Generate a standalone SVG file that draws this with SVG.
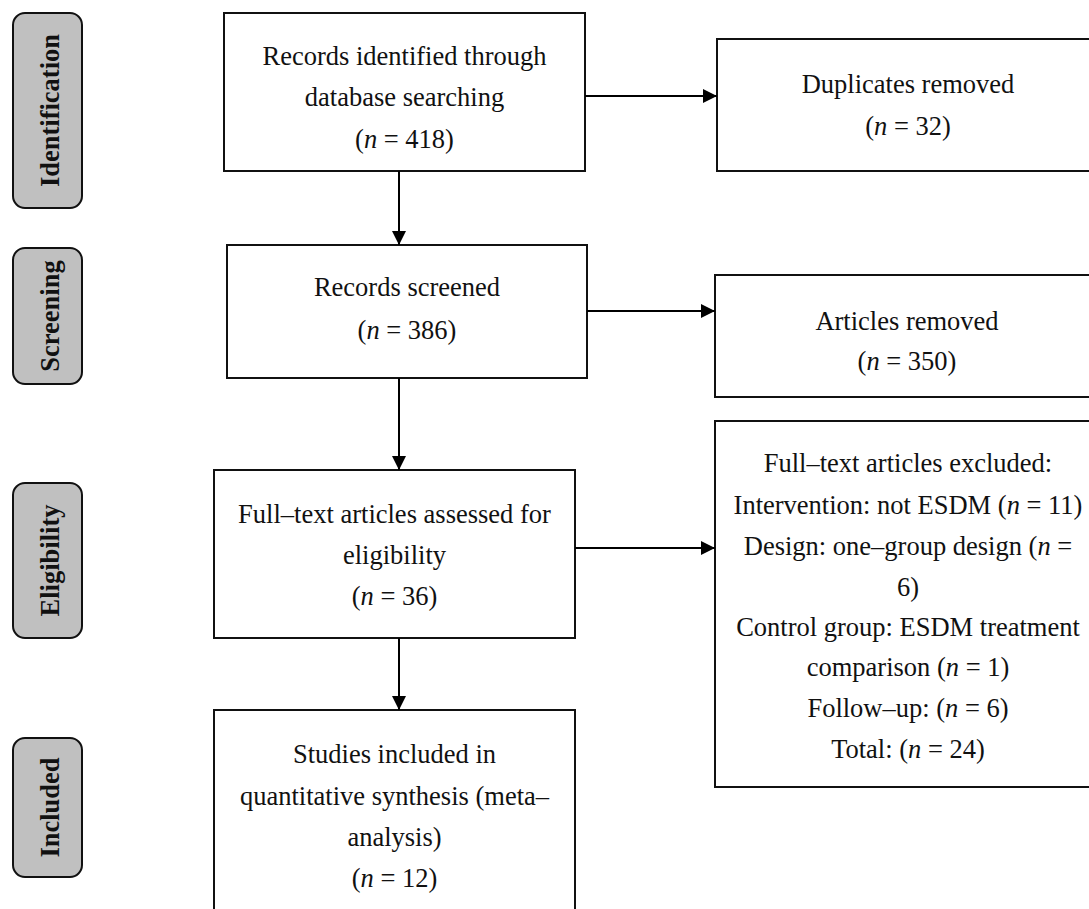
<svg xmlns="http://www.w3.org/2000/svg" width="1089" height="909" viewBox="0 0 1089 909">
<defs>
<marker id="ah" viewBox="0 0 14 14" refX="14" refY="7" markerWidth="14" markerHeight="14" markerUnits="userSpaceOnUse" orient="auto">
<path d="M0,0 L14,7 L0,14 Z" fill="#000"/>
</marker>
<style>
.box{fill:#fff;stroke:#111;stroke-width:2}
.pill{fill:#c0c0c0;stroke:#111;stroke-width:2}
.t{font-family:"Liberation Serif","Times New Roman",serif;font-size:26.5px;fill:#111;text-anchor:middle}
.p{font-family:"Liberation Serif","Times New Roman",serif;font-size:26.5px;font-weight:bold;fill:#111;text-anchor:middle}
.i{font-style:italic}
.c{stroke:#000;stroke-width:2;fill:none;marker-end:url(#ah)}
</style>
</defs>
<rect width="1089" height="909" fill="#fff"/>
<g id="stage-identification">
<rect class="pill" x="13" y="13" width="69" height="195" rx="12"/>
<text class="p" transform="translate(59,110.5) rotate(-90)">Identification</text>
</g>
<g id="stage-screening">
<rect class="pill" x="13" y="248" width="69" height="136" rx="12"/>
<text class="p" transform="translate(59,316) rotate(-90)">Screening</text>
</g>
<g id="stage-eligibility">
<rect class="pill" x="13" y="483" width="69" height="155" rx="12"/>
<text class="p" transform="translate(59,560.5) rotate(-90)">Eligibility</text>
</g>
<g id="stage-included">
<rect class="pill" x="13" y="738" width="69" height="139" rx="12"/>
<text class="p" transform="translate(59,807.5) rotate(-90)">Included</text>
</g>
<g id="node-identified">
<rect class="box" x="224" y="13" width="361" height="158"/>
<text class="t" x="404.5" y="65">Records identified through</text>
<text class="t" x="404.5" y="106">database searching</text>
<text class="t" x="404.5" y="148">(<tspan class="i">n</tspan> = 418)</text>
</g>
<g id="node-duplicates">
<rect class="box" x="717" y="39" width="380" height="132"/>
<text class="t" x="908" y="93">Duplicates removed</text>
<text class="t" x="908" y="135">(<tspan class="i">n</tspan> = 32)</text>
</g>
<g id="node-screened">
<rect class="box" x="227" y="245" width="360" height="133"/>
<text class="t" x="407" y="296">Records screened</text>
<text class="t" x="407" y="339">(<tspan class="i">n</tspan> = 386)</text>
</g>
<g id="node-articles-removed">
<rect class="box" x="715" y="275" width="382" height="122"/>
<text class="t" x="907" y="330">Articles removed</text>
<text class="t" x="907" y="370">(<tspan class="i">n</tspan> = 350)</text>
</g>
<g id="node-fulltext">
<rect class="box" x="214" y="470" width="361" height="168"/>
<text class="t" x="394.5" y="523">Full–text articles assessed for</text>
<text class="t" x="394.5" y="564">eligibility</text>
<text class="t" x="394.5" y="605">(<tspan class="i">n</tspan> = 36)</text>
</g>
<g id="node-excluded">
<rect class="box" x="715" y="421" width="382" height="366"/>
<text class="t" x="908" y="472">Full–text articles excluded:</text>
<text class="t" x="908" y="514">Intervention: not ESDM (<tspan class="i">n</tspan> = 11)</text>
<text class="t" x="908" y="555">Design: one–group design (<tspan class="i">n</tspan> =</text>
<text class="t" x="908" y="596">6)</text>
<text class="t" x="908" y="636">Control group: ESDM treatment</text>
<text class="t" x="908" y="676">comparison (<tspan class="i">n</tspan> = 1)</text>
<text class="t" x="908" y="717">Follow–up: (<tspan class="i">n</tspan> = 6)</text>
<text class="t" x="908" y="758">Total: (<tspan class="i">n</tspan> = 24)</text>
</g>
<g id="node-included">
<rect class="box" x="214" y="710" width="361" height="210"/>
<text class="t" x="394.5" y="763">Studies included in</text>
<text class="t" x="394.5" y="805">quantitative synthesis (meta–</text>
<text class="t" x="394.5" y="846">analysis)</text>
<text class="t" x="394.5" y="887">(<tspan class="i">n</tspan> = 12)</text>
</g>
<g id="connectors">
<line class="c" x1="399" y1="171" x2="399" y2="245"/>
<line class="c" x1="399" y1="378" x2="399" y2="470"/>
<line class="c" x1="399" y1="638" x2="399" y2="710"/>
<line class="c" x1="585" y1="96" x2="717" y2="96"/>
<line class="c" x1="587" y1="311" x2="715" y2="311"/>
<line class="c" x1="575" y1="548" x2="715" y2="548"/>
</g>
</svg>
